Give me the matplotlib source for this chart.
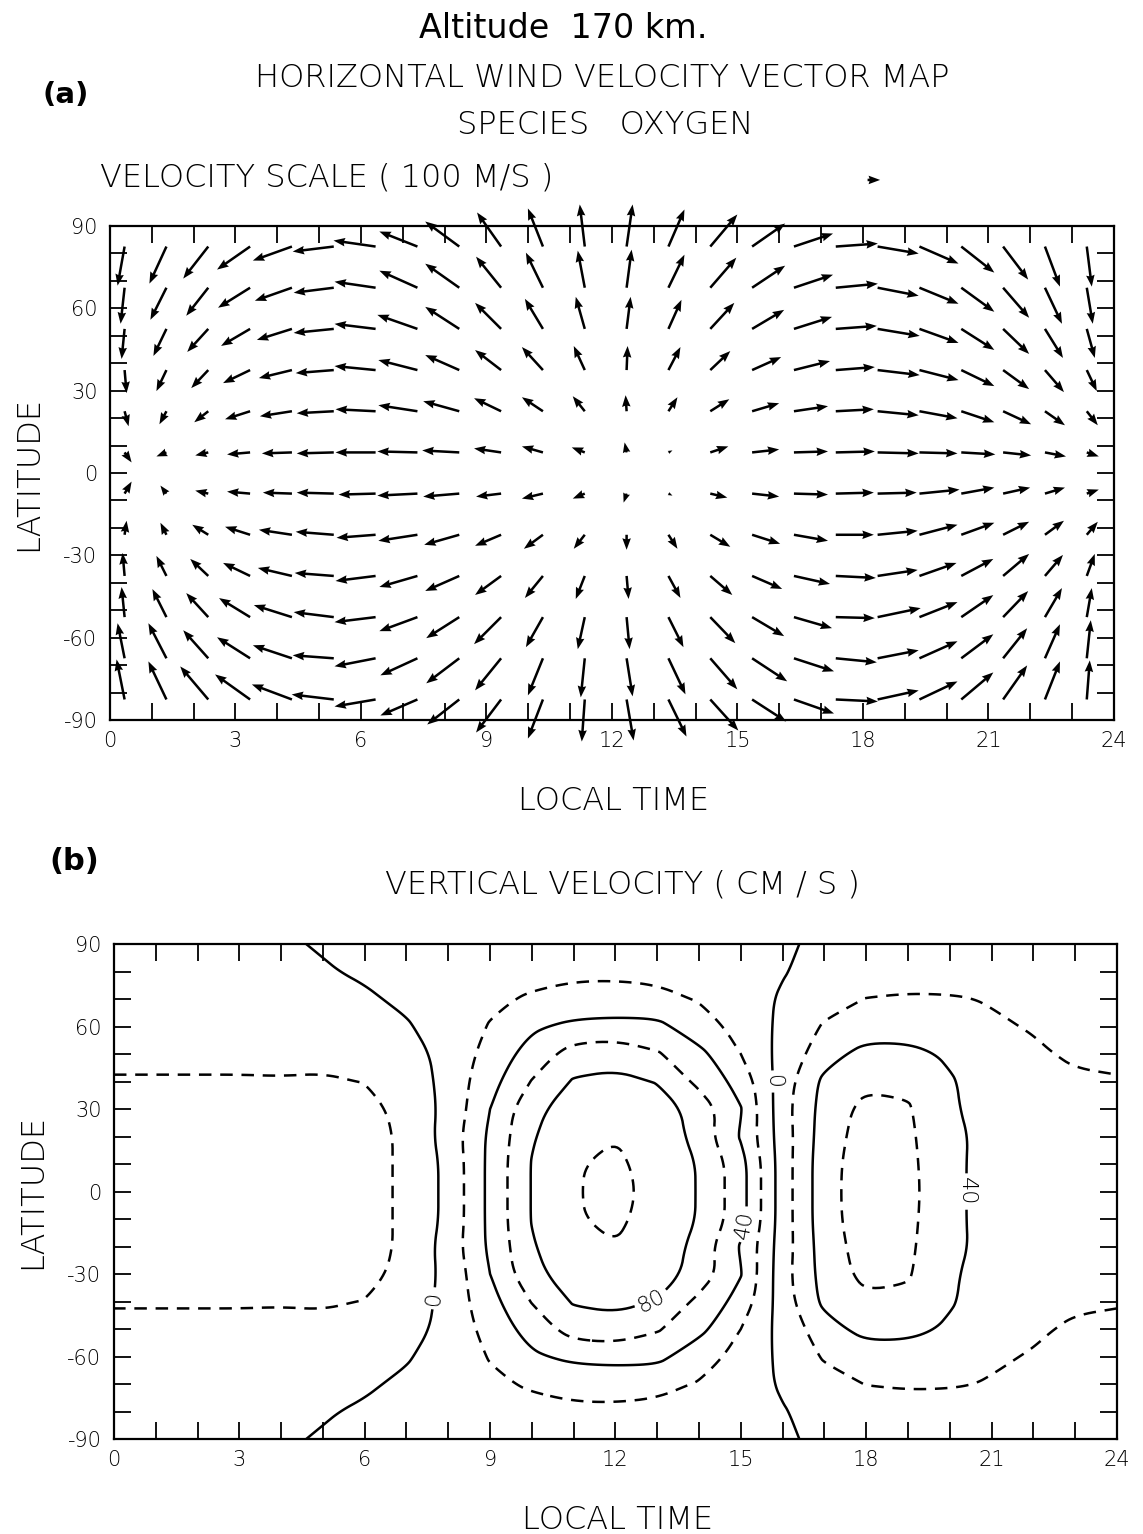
from matplotlib import pyplot as plt
from matplotlib.ticker import MultipleLocator
from matplotlib.path import Path
import numpy as np

plt.rcParams['font.family'] = ['DejaVu Sans']
plt.rcParams['font.weight'] = 'light'
plt.rcParams['axes.unicode_minus'] = False
plt.rcParams['lines.dashed_pattern'] = [5, 3.5]

# ---- panel (a): horizontal wind, arrows on a local time x latitude grid (m/s)
lt_arrows = [0.35, 1.35, 2.35, 3.35, 4.35, 5.35, 6.35, 7.35, 8.35, 9.35, 10.35, 11.35,
             12.35, 13.35, 14.35, 15.35, 16.35, 17.35, 18.35, 19.35, 20.35, 21.35, 22.35, 23.35]
lat_arrows = [82.5, 67.5, 52.5, 37.5, 22.5, 7.5, -7.5, -22.5, -37.5, -52.5, -67.5, -82.5]

u_wind = [
    [-56, -136, -200, -264, -312, -328, -336, -304, -272, -192, -120, -40, 48, 128, 216, 264, 312, 336, 328, 312, 264, 200, 120, 40],
    [-32, -128, -176, -256, -296, -320, -328, -304, -272, -200, -136, -56, 40, 128, 208, 264, 312, 336, 328, 312, 264, 208, 136, 48],
    [-24, -104, -168, -232, -280, -320, -328, -320, -272, -208, -144, -72, 32, 104, 192, 256, 304, 328, 336, 312, 264, 208, 144, 64],
    [16, -80, -136, -216, -264, -304, -328, -312, -272, -208, -168, -88, 8, 96, 160, 232, 288, 312, 336, 312, 264, 208, 152, 80],
    [32, -56, -112, -200, -256, -296, -320, -312, -288, -216, -168, -96, -8, 72, 152, 216, 272, 304, 328, 304, 264, 224, 160, 88],
    [56, -80, -104, -184, -240, -296, -320, -320, -296, -216, -168, -104, -16, 32, 144, 216, 272, 312, 328, 304, 272, 224, 168, 96],
    [56, -48, -104, -184, -232, -296, -296, -320, -288, -200, -168, -96, -24, 32, 136, 216, 272, 304, 312, 320, 264, 216, 160, 96],
    [16, -48, -128, -200, -264, -304, -312, -312, -280, -208, -152, -88, 0, 72, 160, 224, 272, 304, 320, 304, 264, 208, 152, 88],
    [-16, -80, -144, -216, -272, -312, -320, -304, -272, -208, -144, -72, 16, 96, 176, 240, 288, 320, 320, 296, 256, 208, 144, 64],
    [-24, -112, -176, -248, -304, -320, -328, -304, -264, -216, -136, -56, 24, 120, 200, 256, 304, 312, 344, 304, 256, 200, 136, 40],
    [-56, -144, -200, -264, -312, -328, -328, -296, -264, -208, -120, -32, 48, 136, 216, 280, 320, 328, 328, 304, 256, 192, 120, 32],
    [-64, -144, -224, -280, -320, -336, -328, -296, -256, -200, -120, -24, 56, 144, 224, 272, 320, 336, 328, 304, 256, 192, 120, 24],
]
v_wind = [
    [-312, -296, -256, -184, -112, -40, 48, 120, 200, 272, 304, 336, 336, 296, 256, 184, 104, 24, -56, -136, -208, -264, -320, -320],
    [-288, -256, -224, -160, -104, -40, 48, 136, 192, 248, 280, 296, 304, 264, 240, 176, 104, 32, -64, -128, -192, -240, -288, -288],
    [-240, -216, -184, -136, -88, -32, 40, 112, 176, 208, 240, 256, 256, 232, 208, 152, 96, 24, -56, -112, -168, -200, -232, -232],
    [-184, -168, -144, -104, -64, -24, 32, 80, 120, 160, 184, 192, 192, 184, 152, 104, 72, 24, -40, -80, -128, -152, -176, -168],
    [-120, -104, -88, -64, -40, -16, 16, 48, 80, 104, 112, 120, 128, 112, 96, 64, 40, 16, -32, -56, -88, -104, -112, -112],
    [-80, -32, -24, -16, -8, -8, 0, 8, 16, 32, 48, 40, 80, 16, 48, 24, 8, 8, -8, -8, -16, -24, -32, -32],
    [96, 64, 24, 16, 8, 8, -8, -16, -24, -24, -40, -40, -72, -16, -32, -24, -8, 8, 8, 32, 48, 48, 48, 32],
    [112, 96, 80, 64, 40, 24, -24, -48, -80, -88, -112, -112, -120, -112, -96, -72, -48, 0, 32, 80, 96, 104, 112, 104],
    [184, 160, 136, 104, 64, 24, -40, -88, -120, -152, -176, -184, -184, -176, -152, -104, -64, -16, 48, 104, 136, 176, 168, 176],
    [240, 224, 192, 152, 96, 40, -40, -112, -168, -216, -240, -256, -256, -240, -208, -152, -88, -8, 72, 120, 176, 208, 232, 232],
    [280, 280, 224, 168, 104, 24, -64, -136, -200, -256, -296, -312, -304, -288, -248, -184, -104, -32, 64, 136, 192, 240, 272, 304],
    [320, 304, 264, 200, 120, 40, -56, -128, -200, -264, -312, -336, -328, -296, -248, -176, -112, -16, 72, 144, 216, 272, 304, 312],
]
scale_speed = 100  # m/s

# ---- panel (b): vertical velocity (cm/s) on local time x latitude grid
lt_grid = [0, 1, 2, 3, 4, 5, 6, 7, 8, 9, 10, 11, 12, 13, 14, 15, 16, 17, 18, 19, 20, 21, 22, 23, 24]
lat_grid = [-90, -80, -70, -60, -50, -40, -30, -20, -10, 0, 10, 20, 30, 40, 50, 60, 70, 80, 90]
w_vert = [
    [-6, -6, -6, -5, -3, 2, 5, 7, 9, 10, 11, 12, 12, 11, 9, 6, 2, -3, -6, -8, -8, -8, -7, -6, -6],
    [-8, -8, -8, -8, -6, -2, 3, 7, 10, 13, 15, 17, 17, 16, 13, 8, 1, -6, -10, -12, -12, -11, -10, -9, -8],
    [-12, -12, -12, -12, -11, -8, -3, 4, 11, 17, 22, 25, 26, 24, 19, 8, -2, -13, -20.5, -22, -21.5, -19, -16, -14, -12],
    [-14, -14, -14, -14, -13, -11, -7, -2, 10, 21, 37, 45, 47, 46, 27, 15, -5, -22, -28, -30, -28, -22, -19, -16, -14],
    [-17, -17, -17, -17, -16, -15, -12, -6, 5, 28, 48, 69, 72, 62, 46, 20, -7, -31, -48, -46, -37, -28, -22, -18, -17],
    [-21, -21, -21, -21, -21, -22, -19.5, -13, 7, 33, 61, 82, 85, 79, 55, 33, -10, -45, -56, -56, -42, -30, -25, -22, -21],
    [-25, -25, -25, -25, -25, -26, -28, -12, 5, 40, 75, 89, 93, 90, 72, 41, -12, -48, -66, -62, -42, -34, -30, -27, -25],
    [-27, -27, -27, -27, -27, -27, -28, -16, 8, 44, 78, 96, 99, 96, 72, 38, -10, -50, -69, -64, -43, -36, -32, -29, -27],
    [-28, -28, -28, -28, -28, -28, -28, -16, 5, 45, 81, 98, 105, 90, 79, 48, -10, -52, -71, -66, -42, -37, -33, -30, -28],
    [-28, -28, -28, -28, -28, -28, -28, -16, 5, 45, 81, 98, 108, 91, 79, 48, -10, -52, -72, -67, -42, -37, -33, -30, -28],
    [-28, -28, -28, -28, -28, -28, -28, -16, 5, 45, 81, 98, 105, 90, 79, 48, -10, -52, -71, -66, -42, -37, -33, -30, -28],
    [-27, -27, -27, -27, -27, -27, -28, -16, 8, 44, 78, 96, 99, 96, 72, 38, -10, -50, -69, -64, -43, -36, -32, -29, -27],
    [-25, -25, -25, -25, -25, -26, -28, -12, 5, 40, 75, 89, 93, 90, 72, 41, -12, -48, -66, -62, -42, -34, -30, -27, -25],
    [-21, -21, -21, -21, -21, -22, -19.5, -13, 7, 33, 61, 82, 85, 79, 55, 33, -10, -45, -56, -56, -42, -30, -25, -22, -21],
    [-17, -17, -17, -17, -16, -15, -12, -6, 5, 28, 48, 69, 72, 62, 46, 20, -7, -31, -48, -46, -37, -28, -22, -18, -17],
    [-14, -14, -14, -14, -13, -11, -7, -2, 10, 21, 37, 45, 47, 46, 27, 15, -5, -22, -28, -30, -28, -22, -19, -16, -14],
    [-12, -12, -12, -12, -11, -8, -3, 4, 11, 17, 22, 25, 26, 24, 19, 8, -2, -13, -20.5, -22, -21.5, -19, -16, -14, -12],
    [-8, -8, -8, -8, -6, -2, 3, 7, 10, 13, 15, 17, 17, 16, 13, 8, 1, -6, -10, -12, -12, -11, -10, -9, -8],
    [-6, -6, -6, -5, -3, 2, 5, 7, 9, 10, 11, 12, 12, 11, 9, 6, 2, -3, -6, -8, -8, -8, -7, -6, -6],
]
solid_levels = [-40, 0, 40, 80]
dashed_levels = [-60, -20, 20, 60, 100]
label_text = {-40: '40', 0: '0', 40: '40', 80: '80'}
label_spots = [(7.75, -39), (15.75, 40), (15.1, -12), (12.9, -41), (20.3, 0)]

xticks = [0, 3, 6, 9, 12, 15, 18, 21, 24]
yticks = [-90, -60, -30, 0, 30, 60, 90]


def chaikin(pts, closed, n=3):
    # corner cutting, only to round off the drawn polyline
    for _ in range(n):
        if closed:
            nxt = np.roll(pts, -1, axis=0)
            out = np.empty((2 * len(pts), 2))
            out[0::2] = 0.75 * pts + 0.25 * nxt
            out[1::2] = 0.25 * pts + 0.75 * nxt
            pts = out
        else:
            a, b = pts[:-1], pts[1:]
            mid = np.empty((2 * len(a), 2))
            mid[0::2] = 0.75 * a + 0.25 * b
            mid[1::2] = 0.25 * a + 0.75 * b
            pts = np.vstack([pts[:1], mid, pts[-1:]])
    return pts


def smooth_contours(cs):
    new_paths = []
    for p in cs.get_paths():
        verts = p.vertices
        if len(verts) < 3:
            new_paths.append(p)
            continue
        codes = p.codes
        if codes is None:
            codes = np.full(len(verts), Path.LINETO)
            codes[0] = Path.MOVETO
        starts = list(np.where(codes == Path.MOVETO)[0])
        ends = starts[1:] + [len(verts)]
        pieces = []
        for s, e in zip(starts, ends):
            seg = verts[s:e]
            closed = codes[e - 1] == Path.CLOSEPOLY
            if closed:
                seg = seg[:-1]
            elif len(seg) > 2 and np.allclose(seg[0], seg[-1]):
                closed = True
                seg = seg[:-1]
            if len(seg) > 2:
                sm = chaikin(seg, closed)
            else:
                sm = seg
            if closed:
                sm = np.vstack([sm, sm[:1]])
            pieces.append(Path(sm))
        new_paths.append(Path.make_compound_path(*pieces))
    try:
        cs.set_paths(new_paths)
    except NotImplementedError:
        cs._paths = new_paths


def style_axes(ax):
    ax.set_xlim(0, 24)
    ax.set_ylim(-90, 90)
    ax.set_xticks(xticks)
    ax.set_yticks(yticks)
    ax.xaxis.set_minor_locator(MultipleLocator(1))
    ax.yaxis.set_minor_locator(MultipleLocator(10))
    ax.tick_params(which='both', direction='in', length=12, width=1.3,
                   top=True, right=True, labelsize=15)
    ax.tick_params(axis='x', pad=8)
    ax.tick_params(axis='y', pad=9)
    for s in ax.spines.values():
        s.set_linewidth(1.6)
    ax.text(-0.082, 0.5, 'LATITUDE', transform=ax.transAxes, rotation=90,
            ha='center', va='center', fontsize=23)
    ax.text(0.502, -0.163, 'LOCAL TIME', transform=ax.transAxes,
            ha='center', va='center', fontsize=23)


fig = plt.figure(figsize=(11.43, 15.34), dpi=100)

# (a) vector map; arrow length and width given in local-time units along x
ax1 = fig.add_axes([0.0962, 0.5306, 0.8784, 0.3221])
q = ax1.quiver(lt_arrows, lat_arrows, u_wind, v_wind, angles='uv', pivot='tail',
               scale_units='x', scale=334, units='x', width=0.06,
               headwidth=3.4, headlength=4.6, headaxislength=4.2,
               color='black', clip_on=False)
style_axes(ax1)
ax1.quiverkey(q, 0.770, 0.8827, scale_speed, '', coordinates='figure', labelpos='E')

fig.text(0.4926, 0.9817, 'Altitude  170 km.', ha='center', va='center', fontsize=24,
         fontweight='normal')
fig.text(0.0577, 0.938, '(a)', ha='center', va='center', fontsize=21, fontweight='bold')
fig.text(0.5267, 0.9492, 'HORIZONTAL WIND VELOCITY VECTOR MAP', ha='center', va='center',
         fontsize=23)
fig.text(0.5293, 0.9185, 'SPECIES   OXYGEN', ha='center', va='center', fontsize=23)
fig.text(0.0875, 0.884, 'VELOCITY SCALE ( 100 M/S )', ha='left', va='center', fontsize=23)

# (b) vertical velocity contours: solid levels are labelled, dashed ones are not
ax2 = fig.add_axes([0.0997, 0.0619, 0.8775, 0.3227])
cd = ax2.contour(lt_grid, lat_grid, w_vert, levels=dashed_levels, colors='black',
                 linewidths=1.8, linestyles='dashed')
cs = ax2.contour(lt_grid, lat_grid, w_vert, levels=solid_levels, colors='black',
                 linewidths=1.8, linestyles='solid')
smooth_contours(cd)
smooth_contours(cs)
ax2.clabel(cs, fmt=label_text, manual=label_spots,
           inline=True, inline_spacing=4, fontsize=16)
style_axes(ax2)

fig.text(0.0647, 0.4381, '(b)', ha='center', va='center', fontsize=22, fontweight='bold')
fig.text(0.5442, 0.4237, 'VERTICAL VELOCITY ( CM / S )', ha='center', va='center',
         fontsize=23)

fig.savefig('out.png', dpi=100)
